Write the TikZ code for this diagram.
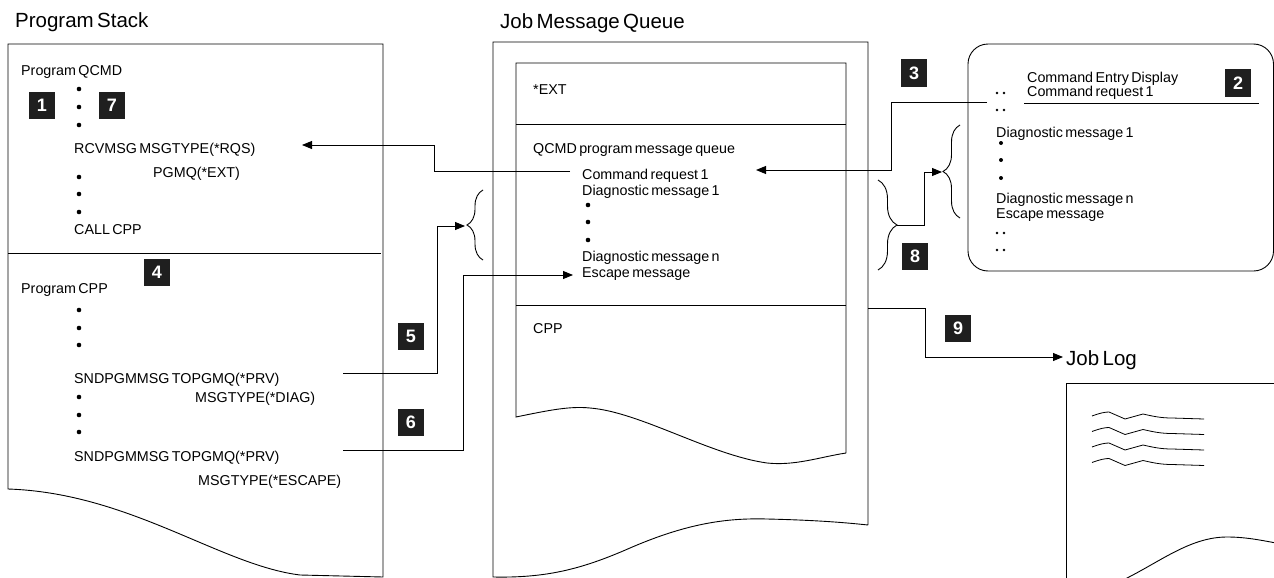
\documentclass[tikz,border=0pt]{standalone}
\usepackage{fontspec}
\setmainfont{Liberation Sans}[WordSpace=0.6]
\usetikzlibrary{arrows.meta,decorations.pathreplacing}
\begin{document}
\begin{tikzpicture}[x=1pt,y=-1pt,
  txt/.style={anchor=base west,inner sep=0pt,font=\fontsize{14.3}{15}\selectfont},
  ttl/.style={anchor=base west,inner sep=0pt,font=\fontsize{20.5}{22}\selectfont},
  badge/.style={fill=black!88,text=white,minimum width=26pt,minimum height=27pt,inner sep=0pt,font=\fontsize{18}{18}\selectfont\bfseries},
  ln/.style={line width=0.9pt},
  arr/.style={ln,-{Triangle[length=10pt,width=8pt]}},
  brc/.style={ln,decorate,decoration={brace,amplitude=#1}},
  wave/.style={line width=0.8pt}
]
\useasboundingbox (0,0) rectangle (1274,578);

% ---------- Program Stack ----------
\node[ttl] (tPS) at (15,28) {Program Stack};
\draw[ln] (383,44) -- (8,44) -- (8,489) .. controls (130,493) and (220,565) .. (300,575) -- (383,577) -- cycle;
\draw[ln] (8,253) -- (381,253);

\node[txt] (pq) at (21,76) {Program QCMD};
\node[txt] (rcv) at (74,153) {RCVMSG MSGTYPE(*RQS)};
\node[txt] (pgmq) at (153,177) {PGMQ(*EXT)};
\node[txt] (call) at (74,234) {CALL CPP};
\node[txt] (pc) at (21,293) {Program CPP};
\node[txt] (snd1) at (74,383) {SNDPGMMSG TOPGMQ(*PRV)};
\node[txt] (diag) at (195,402) {MSGTYPE(*DIAG)};
\node[txt] (snd2) at (74,461) {SNDPGMMSG TOPGMQ(*PRV)};
\node[txt] (esc) at (198,485) {MSGTYPE(*ESCAPE)};
\foreach \yy in {89,107,125,177,194,212,310,328,345,397,415,432}
  \fill (79,\yy) circle[radius=2.3pt];

\node[badge] (b1) at (42,105) {1};
\node[badge] (b7) at (112,105) {7};
\node[badge] (b4) at (157,272) {4};
\node[badge] (b5) at (411,336) {5};
\node[badge] (b6) at (411,422) {6};

% ---------- Job Message Queue ----------
\node[ttl] (tJQ) at (500,29) {Job Message Queue};
\draw[ln] (868,525) -- (868,42) -- (493,42) -- (493,577)
  .. controls (545,578) and (580,570) .. (630,548)
  .. controls (690,522) and (730,518) .. (767,519)
  .. controls (810,520) and (840,522) .. (868,525);
\draw[ln] (846,453) -- (846,63) -- (516,63) -- (516,417)
  .. controls (550,410) and (570,406) .. (590,408)
  .. controls (640,412) and (710,455) .. (767,463)
  .. controls (795,466) and (820,457) .. (846,453);
\draw[ln] (516,124) -- (846,124);
\draw[ln] (516,305) -- (846,305);

\node[txt] (ext) at (533,95) {*EXT};
\node[txt] (qq) at (533,153) {QCMD program message queue};
\node[txt] (cr) at (582,179) {Command request 1};
\node[txt] (d1) at (582,195) {Diagnostic message 1};
\node[txt] (dn) at (582,261) {Diagnostic message n};
\node[txt] (em) at (582,277) {Escape message};
\node[txt] (cpp) at (533,333) {CPP};
\foreach \yy in {205,222,240}
  \fill (588,\yy) circle[radius=2.3pt];

% ---------- Command Entry Display ----------
\draw[ln,rounded corners=20pt] (968,44) rectangle (1273.5,271);
\node[txt] (ced) at (1027,82) {Command Entry Display};
\node[txt] (cr2) at (1027,96) {Command request 1};
\draw[ln] (1024,103) -- (1259,103);
\node[txt] (pd1) at (996,137) {Diagnostic message 1};
\node[txt] (pdn) at (996,203) {Diagnostic message n};
\node[txt] (pem) at (996,218) {Escape message};
\foreach \yy in {93,110,233,250}
  {\fill (997,\yy) circle[radius=1.4pt]; \fill (1004,\yy) circle[radius=1.4pt];}
\foreach \yy in {143,160,178}
  \fill (1001,\yy) circle[radius=2pt];
\node[badge] (b3) at (914,73) {3};
\node[badge] (b2) at (1238,83) {2};
\node[badge] (b8) at (915,256) {8};
\node[badge] (b9) at (958,328) {9};

% ---------- Job Log ----------
\node[ttl] (tJL) at (1066,365) {Job Log};
\draw[ln] (1066,580) -- (1066,383) -- (1276,383);
\draw[ln] (1123,580) .. controls (1160,562) and (1190,537) .. (1227,537)
  .. controls (1245,537) and (1260,540) .. (1276,543);
\foreach \d in {0,15.5,31,46.5}
  \draw[wave,yshift=-\d pt] (1092,416) .. controls (1100,413) and (1105,412) .. (1109,412)
    -- (1125,419) -- (1143,414) .. controls (1152,416) and (1160,418) .. (1172,418) -- (1204,419);

% ---------- braces ----------
\draw[brc=16pt] (483,260) -- (483,190);
\draw[brc=19pt] (878,180) -- (878,270);
\draw[brc=17pt] (960,218) -- (960,125);

% ---------- connectors ----------
\coordinate (c1s) at (570,171);
\coordinate (c1e) at (302,145);
\draw[arr] (c1s) -- (434,171) -- (434,145) -- (c1e);

\coordinate (c3s) at (987,102);
\coordinate (c3e) at (756,170);
\draw[arr] (c3s) -- (891,102) -- (891,170) -- (c3e);

\coordinate (c5s) at (343,373);
\coordinate (c5e) at (465,226);
\draw[arr] (c5s) -- (437,373) -- (437,226) -- (c5e);

\coordinate (c6s) at (343,450);
\coordinate (c6e) at (573,275);
\draw[arr] (c6s) -- (463,450) -- (463,275) -- (c6e);

\coordinate (c8s) at (897,225);
\coordinate (c8e) at (942,172);
\draw[arr] (c8s) -- (924,225) -- (924,172) -- (c8e);

\coordinate (c9s) at (868,308);
\coordinate (c9e) at (1063,357);
\draw[arr] (c9s) -- (925,308) -- (925,357) -- (c9e);
\end{tikzpicture}
\end{document}
